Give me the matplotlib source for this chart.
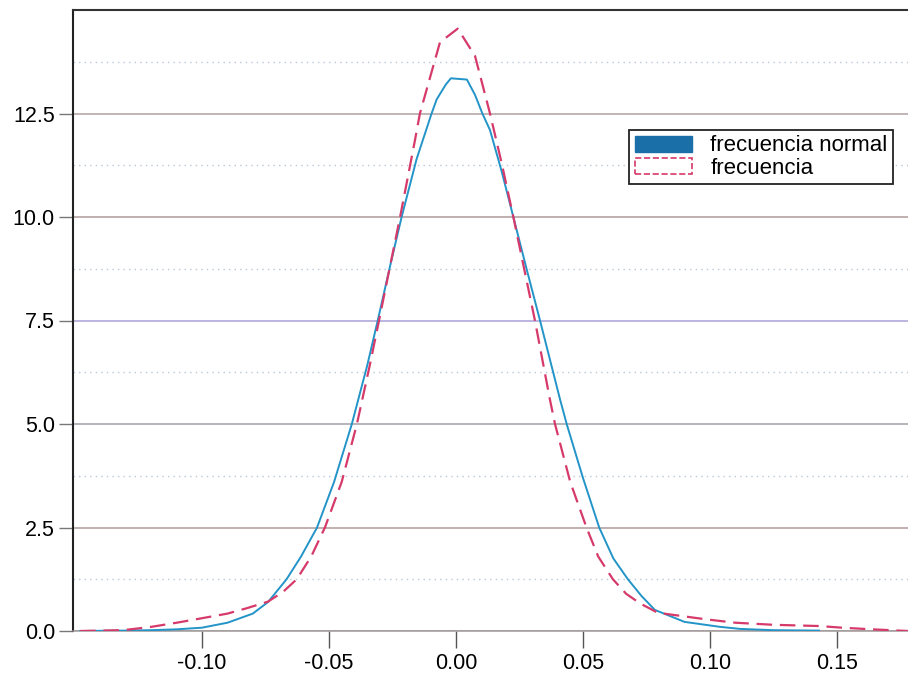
import matplotlib
matplotlib.use("Agg")
import matplotlib.pyplot as plt
from matplotlib.patches import Patch

# Blue curve: "frecuencia normal"
normal_x = [-0.148, -0.13, -0.12, -0.11, -0.10, -0.09, -0.08, -0.074, -0.0667, -0.061,
            -0.0547, -0.048, -0.041, -0.035, -0.0308, -0.026, -0.0214, -0.0155, -0.0096,
            -0.0076, -0.004, -0.002, 0.0043, 0.0075, 0.0104, 0.0134, 0.018, 0.0226, 0.028,
            0.0331, 0.041, 0.0436, 0.05, 0.0564, 0.062, 0.0677, 0.073, 0.0783, 0.09, 0.104,
            0.112, 0.125, 0.143]
normal_y = [0.0, 0.01, 0.02, 0.04, 0.08, 0.2, 0.42, 0.7, 1.25, 1.8,
            2.5, 3.6, 5.0, 6.4, 7.5, 8.8, 10.0, 11.4, 12.5,
            12.84, 13.2, 13.35, 13.32, 12.95, 12.5, 12.1, 11.1, 10.0, 8.7,
            7.5, 5.59, 5.0, 3.7, 2.5, 1.75, 1.25, 0.85, 0.51, 0.22, 0.1,
            0.05, 0.02, 0.01]

# Red dashed curve: "frecuencia"
freq_x = [-0.148, -0.131, -0.12, -0.11, -0.1008, -0.09, -0.0824, -0.074, -0.068, -0.0627,
          -0.057, -0.0516, -0.045, -0.039, -0.034, -0.0303, -0.026, -0.022, -0.0161, -0.0142,
          -0.0063, 0.0007, 0.0075, 0.0134, 0.018, 0.0226, 0.0311, 0.037, 0.039, 0.045,
          0.0514, 0.056, 0.0618, 0.067, 0.0724, 0.0795, 0.0987, 0.11, 0.125, 0.143, 0.152,
          0.164, 0.178]
freq_y = [0.0, 0.02, 0.1, 0.2, 0.3, 0.42, 0.55, 0.71, 0.95, 1.25,
          1.8, 2.5, 3.6, 5.0, 6.4, 7.5, 8.8, 10.0, 11.87, 12.5,
          14.22, 14.55, 13.89, 12.5, 11.3, 10.0, 7.5, 5.59, 5.0, 3.6,
          2.5, 1.8, 1.25, 0.9, 0.67, 0.44, 0.28, 0.2, 0.15, 0.12, 0.08,
          0.04, 0.0]

x_ticks = [-0.10, -0.05, 0.00, 0.05, 0.10, 0.15]
x_ticklabels = ["-0.10", "-0.05", "0.00", "0.05", "0.10", "0.15"]
y_ticks = [0.0, 2.5, 5.0, 7.5, 10.0, 12.5]
y_ticklabels = ["0.0", "2.5", "5.0", "7.5", "10.0", "12.5"]
y_minor = [1.25, 3.75, 6.25, 8.75, 11.25, 13.75]
legend_labels = ["frecuencia normal", "frecuencia"]

plt.rcParams['font.family'] = ['Liberation Sans', 'DejaVu Sans']

fig = plt.figure(figsize=(9.08, 6.78), dpi=100)
ax = fig.add_axes([73/908, 1 - 631/678, 1 - 73/908, (631 - 10)/678])

ax.set_xlim(-0.1508, 0.178)
ax.set_ylim(0, 15)

grid_colors = ['#a8a0a0', '#b09a9a', '#a0a0a8', '#a8a0d8', '#b09a9a', '#b0a0a0']
for yv, c in zip(y_ticks, grid_colors):
    ax.axhline(yv, color=c, lw=1.1, zorder=1)
for yv in y_minor:
    ax.axhline(yv, color='#b8c8d8', lw=1.0, ls=(0, (1, 3)), zorder=1)

ax.plot(normal_x, normal_y, color='#2394c8', lw=1.4, zorder=3)
ax.plot(freq_x, freq_y, color='#d63a6a', lw=1.6, ls=(0, (7, 3.5)), zorder=4)

ax.set_xticks(x_ticks)
ax.set_xticklabels(x_ticklabels)
ax.set_yticks(y_ticks)
ax.set_yticklabels(y_ticklabels)
ax.tick_params(axis='x', direction='out', length=12, width=1, color='#555555',
               labelsize=15.5, pad=4)
ax.tick_params(axis='y', direction='out', length=10, width=1, color='#777777',
               labelsize=15.5, pad=3)

ax.spines['right'].set_visible(False)
ax.spines['left'].set_color('#222222')
ax.spines['left'].set_linewidth(1.5)
ax.spines['top'].set_color('#333333')
ax.spines['top'].set_linewidth(1.5)
ax.spines['bottom'].set_color('#a09898')
ax.spines['bottom'].set_linewidth(1.1)

handles = [Patch(facecolor='#1a6fa8', edgecolor='#1a6fa8'),
           Patch(facecolor='none', edgecolor='#d63a6a', linestyle='--', linewidth=1.2)]
leg = ax.legend(handles, legend_labels, loc='upper right',
                bbox_to_anchor=(0.982, 0.807), fontsize=16, frameon=True,
                fancybox=False, edgecolor='#222222', framealpha=1,
                handlelength=2.6, handleheight=0.75, handletextpad=0.8,
                borderpad=0.25, labelspacing=0.05, borderaxespad=0)
leg.get_frame().set_linewidth(1.3)

fig.savefig("out.png", dpi=100, facecolor='white')
